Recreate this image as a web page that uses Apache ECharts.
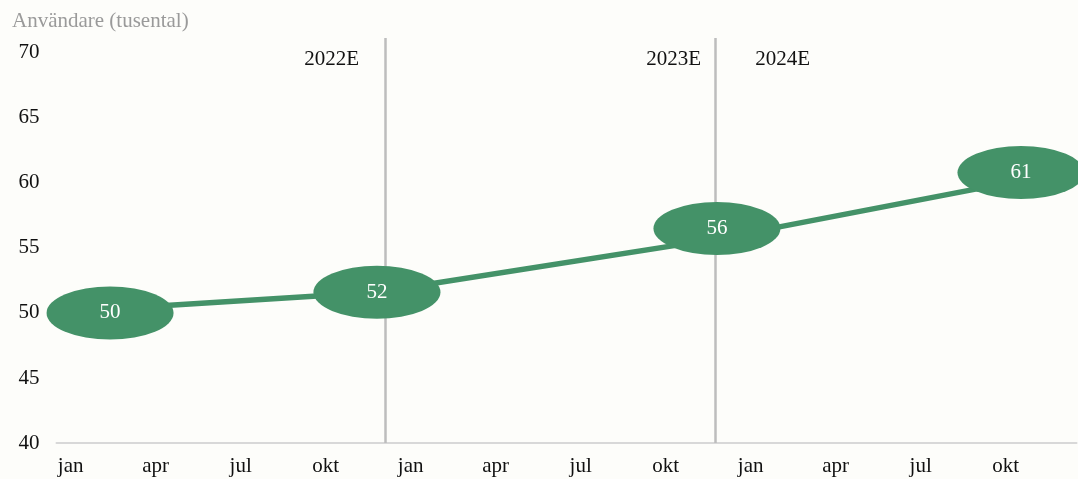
<!DOCTYPE html>
<html>
<head>
<meta charset="utf-8">
<script src="https://cdn.jsdelivr.net/npm/echarts@6/dist/echarts.min.js"></script>
<style>
  html, body { margin: 0; padding: 0; background: #fdfdfa; }
  #chart { width: 1078px; height: 479px; }
</style>
</head>
<body>
<div id="chart"></div>
<script>
// månader, tre år
const monthNames = ['jan', 'feb', 'mar', 'apr', 'maj', 'jun', 'jul', 'aug', 'sep', 'okt', 'nov', 'dec']
const categories = monthNames.concat(monthNames, monthNames)

// linjen (x i månader från start)
const lineX = [1.89, 11.31, 23.31, 34.04]
const lineY = [50.3, 51.6, 55.7, 60.2]

// ellipserna med värden
const bubbleX = [1.89, 11.31, 23.31, 34.04]
const bubbleY = [50.0, 51.6, 56.5, 60.8]
const bubbleLabels = ['50', '52', '56', '61']

// årsgränser och årsetiketter
const dividerX = [11.59, 23.26]
const yearLabels = ['2022E', '2023E', '2024E']
const yearLabelX = [9.71, 21.78, 25.63]
const yearLabelY = 69.46

const yTicks = [40, 45, 50, 55, 60, 65, 70]

const font = "'Liberation Serif', 'Times New Roman', serif"
const green = '#449268'
const fs = 21

const chart = echarts.init(document.getElementById('chart'))
const option = {
  backgroundColor: '#fdfdfa',
  textStyle: { fontFamily: font },
  title: {
    text: 'Användare (tusental)',
    left: 7,
    top: 6,
    textStyle: { color: '#9a9a9a', fontSize: fs, fontWeight: 'normal', fontFamily: font }
  },
  grid: { left: 56.5, right: 1.5, top: 38, bottom: 36 },
  xAxis: [
    {
      type: 'category',
      data: categories,
      boundaryGap: true,
      axisLine: { lineStyle: { color: '#d8d8d8', width: 2 } },
      axisTick: { show: false },
      axisLabel: { interval: 2, color: '#111', fontSize: fs, fontFamily: font, margin: 13 }
    },
    {
      type: 'value',
      min: 0,
      max: 36,
      show: false
    }
  ],
  yAxis: {
    type: 'value',
    min: yTicks[0],
    max: 71.15,
    interval: 5,
    axisLine: { show: false },
    axisTick: { show: false },
    splitLine: { show: false },
    axisLabel: { showMaxLabel: false, color: '#111', fontSize: fs, fontFamily: font, margin: 17 }
  },
  series: [
    {
      type: 'line',
      xAxisIndex: 1,
      data: lineX.map((x, i) => [x, lineY[i]]),
      symbol: 'none',
      lineStyle: { color: green, width: 5.5 },
      z: 2,
      markLine: {
        silent: true,
        z: 1,
        symbol: 'none',
        label: { show: false },
        lineStyle: { color: '#bdbdbd', width: 2.5, type: 'solid' },
        data: dividerX.map(x => ({ xAxis: x }))
      }
    },
    {
      type: 'scatter',
      xAxisIndex: 1,
      data: bubbleX.map((x, i) => ({ value: [x, bubbleY[i]], name: bubbleLabels[i] })),
      symbol: 'path://M0,50 A50,50 0 1,1 100,50 A50,50 0 1,1 0,50 Z',
      symbolSize: [127, 53],
      symbolKeepAspect: false,
      itemStyle: { color: green, opacity: 1 },
      label: {
        show: true,
        position: 'inside',
        formatter: p => p.name,
        color: '#ffffff',
        fontSize: fs,
        fontFamily: font
      },
      z: 4
    },
    {
      type: 'scatter',
      xAxisIndex: 1,
      data: yearLabels.map((t, i) => ({ value: [yearLabelX[i], yearLabelY], name: t })),
      symbolSize: 1,
      itemStyle: { color: 'rgba(0,0,0,0)', opacity: 1 },
      label: {
        show: true,
        position: 'inside',
        formatter: p => p.name,
        color: '#111',
        textBorderWidth: 0,
        fontSize: fs,
        fontFamily: font
      },
      z: 5
    }
  ]
}

option && chart.setOption(option)
</script>
</body>
</html>
